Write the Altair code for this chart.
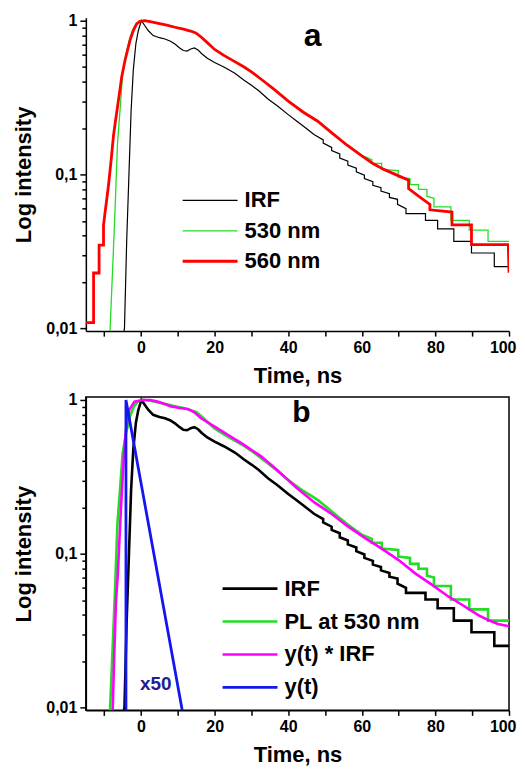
import altair as alt
import pandas as pd

# ---------------- data ----------------
# Instrument response function (same curve in both panels)
irf_t = [-5.0, -4.5, -3.9, -3.3, -2.7, -2.1, -1.4, -0.75, 0.1, 1.0,
         2.0, 3.3, 5.0, 6.5, 8.0, 9.2, 10.5, 11.5, 12.5, 13.5,
         14.5, 15.5, 16.5, 18.0, 20.0, 22.5, 25.5, 28.0, 30.0, 32.0,
         34.5, 37.0, 40.0, 42.0, 44.5, 47.0, 49.5, 49.5, 51.8, 51.8,
         54.0, 54.0, 56.2, 56.2, 58.5, 58.5, 60.7, 60.7, 63.0, 63.0,
         65.2, 65.2, 67.5, 67.5, 69.7, 69.7, 72.0, 72.0, 77.3, 77.3,
         80.6, 80.6, 85.0, 85.0, 89.8, 89.8, 96.0, 96.0, 100.0]
irf_v = [0.008, 0.0101, 0.037, 0.098, 0.26, 0.48, 0.71, 0.86, 1.0, 0.93,
         0.86, 0.80, 0.775, 0.76, 0.735, 0.705, 0.665, 0.64, 0.635, 0.655,
         0.665, 0.645, 0.61, 0.57, 0.535, 0.50, 0.455, 0.41, 0.38, 0.35,
         0.31, 0.28, 0.245, 0.225, 0.203, 0.182, 0.168, 0.160, 0.150, 0.143,
         0.136, 0.128, 0.122, 0.115, 0.110, 0.104, 0.099, 0.094, 0.090, 0.085,
         0.082, 0.078, 0.075, 0.071, 0.069, 0.064, 0.060, 0.0557, 0.0557, 0.0504,
         0.0504, 0.0443, 0.0443, 0.0368, 0.0368, 0.0309, 0.0309, 0.0252, 0.0252]

# PL at 530 nm
g_t = [-8.6, -8.4, -7.8, -7.05, -6.4, -5.7, -5.0, -4.0, -3.0, -2.0,
       -1.0, 0.0, 1.0, 2.5, 4.7, 7.0, 9.2, 11.5, 13.7, 15.0,
       16.4, 18.0, 20.0, 22.5, 25.0, 28.0, 30.0, 33.0, 36.0, 40.0,
       44.0, 48.0, 52.0, 56.0, 60.0, 62.7, 62.7, 65.4, 65.4, 69.9,
       69.9, 73.1, 73.1, 75.4, 75.4, 77.7, 77.7, 79.6, 79.6, 84.2,
       84.2, 89.2, 89.2, 94.3, 94.3, 100.0]
g_v = [0.008, 0.0100, 0.022, 0.06, 0.16, 0.264, 0.45, 0.62, 0.78, 0.90,
       0.97, 1.0, 1.0, 0.987, 0.962, 0.937, 0.91, 0.885, 0.855, 0.832,
       0.782, 0.722, 0.652, 0.597, 0.552, 0.502, 0.467, 0.412, 0.362, 0.302,
       0.257, 0.224, 0.187, 0.156, 0.133, 0.125, 0.118, 0.118, 0.108, 0.106,
       0.096, 0.094, 0.086, 0.086, 0.080, 0.080, 0.072, 0.070, 0.0617, 0.0617,
       0.0504, 0.0504, 0.0435, 0.0435, 0.0368, 0.0368]

# PL at 560 nm
r_t = [-15.0, -12.9, -12.9, -11.4, -11.4, -10.2, -10.2, -9.75, -9.3, -8.85,
       -8.1, -7.5, -6.9, -6.0, -5.25, -4.35, -3.0, -2.1, -1.2, -0.3,
       1.0, 2.5, 4.7, 7.0, 9.2, 11.5, 13.7, 15.0, 16.4, 18.0,
       20.0, 22.5, 25.0, 28.0, 30.0, 33.0, 36.0, 40.0, 44.0, 48.0,
       52.0, 56.0, 60.0, 63.0, 66.0, 70.0, 72.7, 72.7, 75.5, 78.5,
       78.5, 84.5, 84.5, 89.8, 89.8, 99.8, 100.0]
r_v = [0.0109, 0.0109, 0.0229, 0.0229, 0.0348, 0.0348, 0.0469, 0.0574, 0.0696, 0.0848,
       0.126, 0.178, 0.227, 0.321, 0.432, 0.553, 0.744, 0.862, 0.952, 0.99,
       1.0, 0.985, 0.96, 0.935, 0.906, 0.88, 0.853, 0.83, 0.78, 0.72,
       0.65, 0.595, 0.55, 0.50, 0.465, 0.41, 0.36, 0.30, 0.255, 0.222,
       0.185, 0.155, 0.132, 0.118, 0.108, 0.098, 0.092, 0.081, 0.072, 0.064,
       0.059, 0.057, 0.047, 0.047, 0.035, 0.035, 0.023]

# y(t) * IRF (convolution fit)
m_t = [-8.2, -7.7, -7.3, -6.8, -6.35, -5.45, -4.7, -4.1, -3.2, -1.8,
       0.5, 2.5, 4.5, 8.2, 10.5, 12.7, 14.5, 16.3, 20.0, 23.6,
       28.0, 32.7, 37.0, 42.0, 47.2, 52.0, 56.3, 61.0, 65.4, 70.0,
       74.5, 79.0, 83.6, 87.0, 89.5, 92.0, 94.5, 97.0, 100.0]
m_v = [0.008, 0.0097, 0.0214, 0.05, 0.071, 0.20, 0.428, 0.638, 0.861, 0.975,
       1.0, 1.0, 0.975, 0.905, 0.885, 0.874, 0.83, 0.76, 0.67, 0.592,
       0.51, 0.428, 0.35, 0.272, 0.215, 0.18, 0.15, 0.126, 0.108, 0.091,
       0.0746, 0.063, 0.0526, 0.047, 0.043, 0.0395, 0.037, 0.035, 0.0338]

# y(t) (x50)
y_t = [-4.1, -4.1, 11.3]
y_v = [0.005, 1.0, 0.0093]

labels_a = ["IRF", "530 nm", "560 nm"]
labels_b = ["IRF", "PL at 530 nm", "y(t) * IRF", "y(t)"]
colors_a = ["#000000", "#22dd22", "#ff0000"]
colors_b = ["#000000", "#22dd22", "#ff00ff", "#1515f0"]
widths_a = [1.2, 1.3, 2.8]
widths_b = [2.6, 2.6, 2.6, 2.8]

x_tick_values = [-10, 0, 10, 20, 30, 40, 50, 60, 70, 80, 90, 100]
y_tick_values = [0.01, 0.02, 0.03, 0.04, 0.05, 0.06, 0.07, 0.08, 0.09,
                 0.1, 0.2, 0.3, 0.4, 0.5, 0.6, 0.7, 0.8, 0.9, 1.0]

panel_letters = ["a", "b"]
letter_t = [46.6, 43.6]
letter_v = [0.79, 0.82]
note_text = ["x50"]
note_t = [4.0]
note_v = [0.0142]

FONT = "Liberation Sans"
W, H = 424, 314
# legend key: a horizontal stroke drawn to the right of the symbol anchor (55 px long)
KEY_PATH = "M0,0H20"
KEY_SIZE = 30.25


def make_df(t, v, name, field):
    return pd.DataFrame({"t": t, "v": v, field: name, "idx": list(range(len(t)))})


x_enc = alt.X("t:Q", scale=alt.Scale(domain=[-15, 100], nice=False, zero=False),
              axis=alt.Axis(values=x_tick_values, title="Time, ns", labelFlush=True, labelFlushOffset=7,
                            labelExpr="datum.value % 20 == 0 ? format(datum.value, 'd') : ''"))
y_enc = alt.Y("v:Q", scale=alt.Scale(type="log", domain=[0.0096, 1.045], nice=False),
              axis=alt.Axis(values=y_tick_values, title="Log intensity", labelFlush=False,
                            tickSize={"condition": {"test": "datum.value == 1 || datum.value == 0.1 || datum.value == 0.01", "value": 6}, "value": 4},
                            labelExpr="datum.value == 1 ? '1' : (datum.value == 0.1 ? '0,1' : (datum.value == 0.01 ? '0,01' : ''))"))


def panel(series, field, labels, colors, widths, legend_x, legend_y, row_pad):
    leg = alt.Legend(orient="none", legendX=legend_x, legendY=legend_y, title=None,
                     symbolType=KEY_PATH, symbolSize=KEY_SIZE, symbolFillColor="transparent",
                     labelFont=FONT, labelFontSize=22, labelFontWeight="bold", labelColor="black",
                     labelOffset=51, rowPadding=row_pad, padding=0)
    layers = []
    for (t, v, name) in series:
        layers.append(
            alt.Chart(make_df(t, v, name, field)).mark_line(clip=True).encode(
                x=x_enc, y=y_enc,
                color=alt.Color(f"{field}:N", scale=alt.Scale(domain=labels, range=colors), legend=leg),
                strokeWidth=alt.StrokeWidth(f"{field}:N", scale=alt.Scale(type="ordinal", domain=labels, range=widths), legend=leg),
                order=alt.Order("idx:Q"),
            )
        )
    return layers


layers_a = panel([(irf_t, irf_v, "IRF"), (g_t, g_v, "530 nm"), (r_t, r_v, "560 nm")],
                 "series_a", labels_a, colors_a, widths_a, 86, 172, 8.5)
letter_a = alt.Chart(pd.DataFrame({"t": [letter_t[0]], "v": [letter_v[0]], "txt": [panel_letters[0]]})).mark_text(
    font=FONT, fontSize=32, fontWeight="bold", color="black").encode(x=x_enc, y=y_enc, text="txt:N")
chart_a = alt.layer(*layers_a, letter_a).properties(width=W, height=H)

layers_b = panel([(irf_t, irf_v, "IRF"), (g_t, g_v, "PL at 530 nm"), (m_t, m_v, "y(t) * IRF"), (y_t, y_v, "y(t)")],
                 "series_b", labels_b, colors_b, widths_b, 126, 181, 11)
letter_b = alt.Chart(pd.DataFrame({"t": [letter_t[1]], "v": [letter_v[1]], "txt": [panel_letters[1]]})).mark_text(
    font=FONT, fontSize=30, fontWeight="bold", color="black").encode(x=x_enc, y=y_enc, text="txt:N")
note_b = alt.Chart(pd.DataFrame({"t": note_t, "v": note_v, "txt": note_text})).mark_text(
    font=FONT, fontSize=19, fontWeight="bold", color="#1e1e96").encode(x=x_enc, y=y_enc, text="txt:N")
chart_b = alt.layer(*layers_b, letter_b, note_b).properties(
    width=W, height=H, view=alt.ViewBackground(stroke="black", strokeWidth=1.5))

chart = alt.vconcat(chart_a, chart_b, spacing=5).resolve_scale(
    color="independent", strokeWidth="independent"
).resolve_legend(
    color="independent", strokeWidth="independent"
).properties(
    padding={"left": 4, "top": 3, "right": 0, "bottom": 0}
).configure_axis(
    domainColor="black", domainWidth=1.5, tickColor="black", tickWidth=1.5, tickSize=5,
    labelFont=FONT, labelFontSize=16, labelFontWeight="bold", labelColor="black", labelPadding=3,
    titleFont=FONT, titleFontSize=22, titleFontWeight="bold", titleColor="black", grid=False
).configure_axisX(titlePadding=10).configure_axisY(titlePadding=10).configure_view(stroke=None)

chart.save("out.html", embed_options={"renderer": "svg", "actions": False})
